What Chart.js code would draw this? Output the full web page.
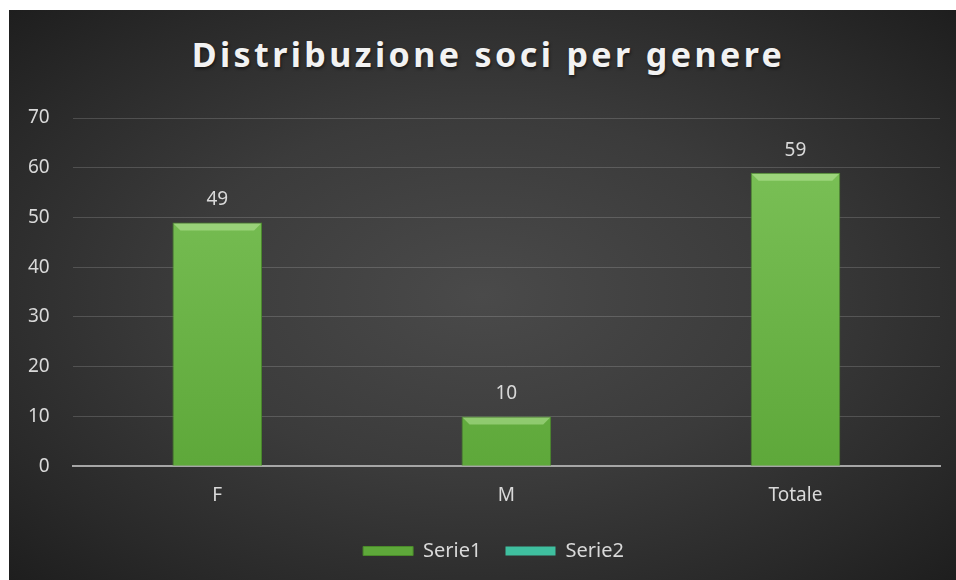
<!DOCTYPE html>
<html>
<head>
<meta charset="utf-8">
<script src="https://cdn.jsdelivr.net/npm/chart.js@4/dist/chart.umd.min.js"></script>
<style>
  body { margin: 0; background: #fff; width: 956px; height: 580px; overflow: hidden; }
  #panel {
    position: absolute; left: 9px; top: 10px; width: 947px; height: 570px;
    background: radial-gradient(ellipse at 50% 50%, #4a4a4a 0%, #3b3b3b 45%, #292929 80%, #1e1e1e 100%);
  }
  #title {
    position: absolute; left: 6px; top: 21px; width: 100%; text-align: center;
    font-family: "Noto Sans", sans-serif; font-weight: bold; font-size: 34px;
    letter-spacing: 3.4px; color: #f2f2f2; text-shadow: 1px 2px 3px rgba(0,0,0,0.5);
  }
  #chart { position: absolute; left: 0; top: 0; }
</style>
</head>
<body>
<div id="panel">
  <div id="title">Distribuzione soci per genere</div>
  <canvas id="chart" width="947" height="570"></canvas>
</div>
<script>
const categories = ['F', 'M', 'Totale'];
const serie1 = [49, 10, 59];
const serie2 = [];
const yTicks = [0, 10, 20, 30, 40, 50, 60, 70];

const textColor = '#d9d9d9';
const fontFamily = '"Noto Sans", sans-serif';

function barFill(context) {
    const chart = context.chart;
    const area = chart.chartArea;
    if (!area) return '#6cb447';
    const g = chart.ctx.createLinearGradient(0, area.top, 0, area.bottom);
    g.addColorStop(0, '#7ec35a');
    g.addColorStop(1, '#5ea83a');
    return g;
}

// light bevel on top of each bar
const barBevel = {
    id: 'barBevel',
    afterDatasetsDraw(chart) {
        const ctx = chart.ctx;
        const meta = chart.getDatasetMeta(0);
        ctx.save();
        meta.data.forEach(bar => {
            const l = bar.x - bar.width / 2, r = bar.x + bar.width / 2, t = bar.y, d = 8;
            ctx.fillStyle = 'rgba(200,240,170,0.45)';
            ctx.beginPath();
            ctx.moveTo(l + 1, t + 1);
            ctx.lineTo(r - 1, t + 1);
            ctx.lineTo(r - d, t + d);
            ctx.lineTo(l + d, t + d);
            ctx.closePath();
            ctx.fill();
        });
        ctx.restore();
    }
};

const dataLabels = {
    id: 'dataLabels',
    afterDatasetsDraw(chart) {
        const ctx = chart.ctx;
        const meta = chart.getDatasetMeta(0);
        ctx.save();
        ctx.fillStyle = textColor;
        ctx.font = '19px ' + fontFamily;
        ctx.textAlign = 'center';
        ctx.textBaseline = 'bottom';
        meta.data.forEach((bar, i) => {
            ctx.fillText(serie1[i], bar.x, bar.y - 13);
        });
        ctx.restore();
    }
};

// nudge the legend to the right, as in the original
const legendShift = {
    id: 'legendShift',
    afterLayout(chart) {
        chart.legend.left += 21;
        chart.legend.right += 21;
    }
};

const ctx = document.getElementById('chart').getContext('2d');
new Chart(ctx, {
    data: {
        labels: categories,
        datasets: [
            {
                type: 'bar',
                label: 'Serie1',
                data: serie1,
                backgroundColor: barFill,
                borderColor: '#4a8a2a',
                borderWidth: 1,
                barPercentage: 0.31,
                categoryPercentage: 1
            },
            {
                type: 'line',
                label: 'Serie2',
                data: serie2,
                backgroundColor: '#3fbf9f',
                borderColor: '#3fbf9f',
                borderWidth: 0
            }
        ]
    },
    options: {
        responsive: false,
        animation: false,
        devicePixelRatio: 1,
        layout: { padding: { top: 108, left: -4, right: 16, bottom: 9 } },
        scales: {
            x: {
                grid: { display: false },
                border: { display: true, color: '#a6a6a6', width: 2 },
                ticks: { color: textColor, font: { family: fontFamily, size: 19 }, padding: 10 }
            },
            y: {
                min: 0,
                max: 70,
                afterBuildTicks(axis) { axis.ticks = yTicks.map(v => ({ value: v })); },
                grid: { color: 'rgba(255,255,255,0.16)', lineWidth: 1, drawTicks: false },
                border: { display: false },
                ticks: { color: textColor, font: { family: fontFamily, size: 19 }, padding: 23 }
            }
        },
        plugins: {
            title: { display: false },
            tooltip: { enabled: false },
            legend: {
                position: 'bottom',
                labels: {
                    color: textColor,
                    font: { family: fontFamily, size: 20 },
                    boxWidth: 50,
                    boxHeight: 9,
                    padding: 24
                }
            }
        }
    },
    plugins: [barBevel, dataLabels, legendShift]
});
</script>
</body>
</html>
